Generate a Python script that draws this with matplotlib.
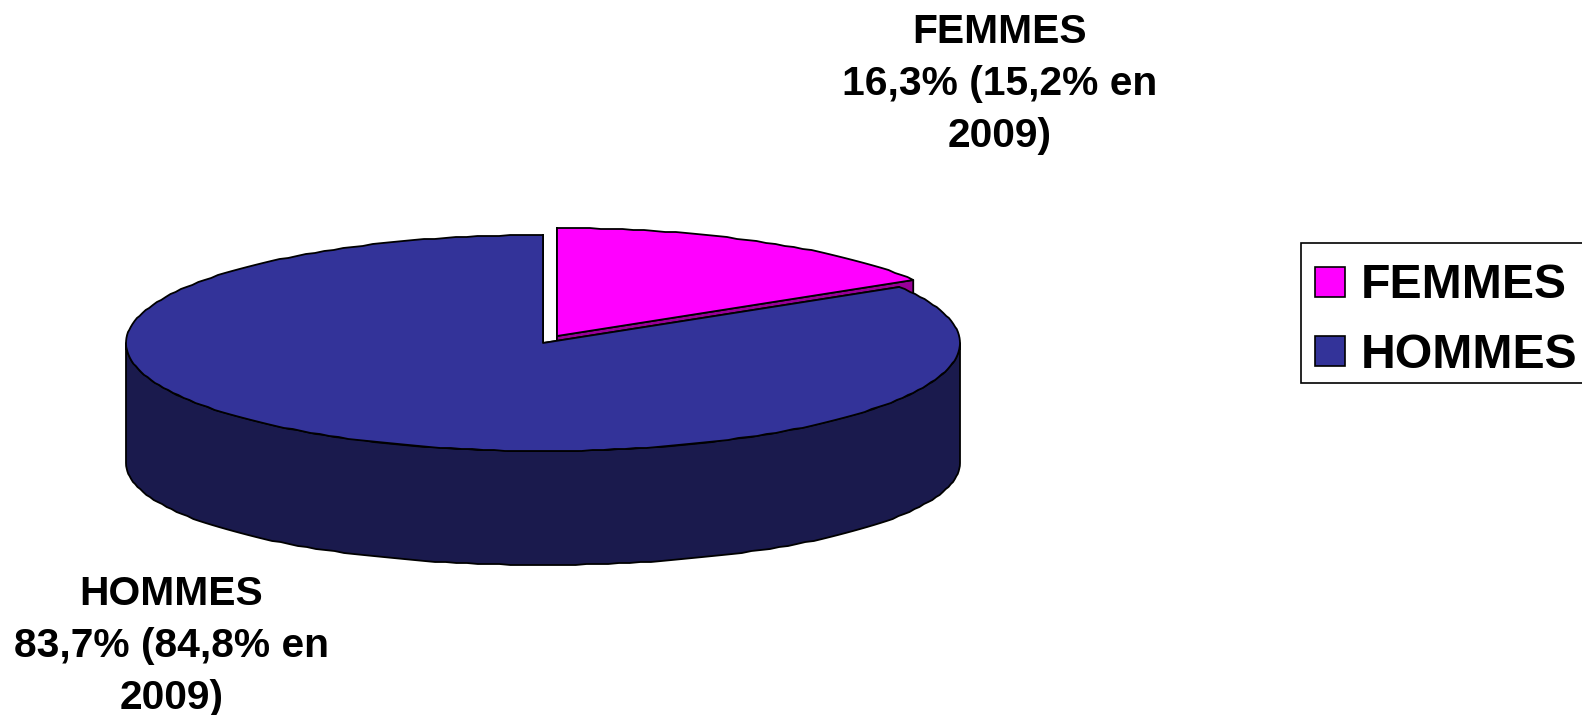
from matplotlib import pyplot as plt
from matplotlib.patches import Polygon, Rectangle
import numpy as np

# values
categories = ["FEMMES", "HOMMES"]
shares = [16.3, 83.7]
labels = ["FEMMES\n16,3% (15,2% en\n2009)", "HOMMES\n83,7% (84,8% en\n2009)"]

top_colors = ["#ff00ff", "#333399"]
side_colors = ["#990099", "#1a1a4d"]

plt.rcParams['font.family'] = ['Liberation Sans', 'DejaVu Sans']

# pie geometry, in pixels of the picture
RX = 417
RY = 108
RY_LOW = 102   # the lower rim comes out a bit flatter in the original
DEPTH = 120
CENTERS = [(557, 336), (543, 343)]


def ellipse_pts(center, a1, a2, ry=RY, drop=0):
    # angles in degrees clockwise from twelve o'clock
    n = max(2, int(abs(a2 - a1) / 1.5) + 1)
    t = np.radians(np.linspace(a1, a2, n))
    y = center[1] - ry * np.cos(t) + drop
    # whole pixels only, the original rim is slightly stepped too
    return np.column_stack([center[0] + RX * np.sin(t), np.round(y)])


def draw_slice(ax, center, a1, a2, top_col, side_col):
    apex = np.array(center, dtype=float)
    edge = dict(edgecolor="black", linewidth=1.3, joinstyle="round")

    # cut faces
    for a in (a1, a2):
        rim = ellipse_pts(center, a, a)[0]
        face = [apex, rim, rim + [0, DEPTH], apex + [0, DEPTH]]
        ax.add_patch(Polygon(face, closed=True, facecolor=side_col, **edge))

    # outer wall, only the part turned to the viewer
    lo = max(a1, 90)
    hi = min(a2, 270)
    if lo < hi:
        upper = ellipse_pts(center, lo, hi)
        lower = ellipse_pts(center, hi, lo, ry=RY_LOW, drop=DEPTH)
        ax.add_patch(Polygon(np.vstack([upper, lower]), closed=True, facecolor=side_col, **edge))

    # top
    arc = ellipse_pts(center, a1, a2)
    ax.add_patch(Polygon(np.vstack([[apex], arc]), closed=True, facecolor=top_col, **edge))


fig = plt.figure(figsize=(15.82, 7.15), dpi=100)
ax = fig.add_axes([0, 0, 1, 1])
ax.set_xlim(0, 1582)
ax.set_ylim(715, 0)
ax.axis("off")

total = sum(shares)
start = 0
for i in range(len(shares)):
    end = start + 360 * shares[i] / total
    draw_slice(ax, CENTERS[i], start, end, top_colors[i], side_colors[i])
    start = end

# data labels
ax.text(1000, 84, labels[0], ha="center", va="center", fontsize=29.3, fontweight="bold",
        linespacing=1.47, color="black")
ax.text(171.5, 646, labels[1], ha="center", va="center", fontsize=29.3, fontweight="bold",
        linespacing=1.47, color="black")

# legend
ax.add_patch(Rectangle((1301, 243), 290, 140, facecolor="white", edgecolor="black", linewidth=1.2))
legend_y = [282, 351]
text_y = [280, 350]
for i in range(len(categories)):
    ax.add_patch(Rectangle((1315, legend_y[i] - 15), 30, 30, facecolor=top_colors[i],
                           edgecolor="black", linewidth=1.2))
    ax.text(1361, text_y[i], categories[i], ha="left", va="center_baseline", fontsize=34.7,
            fontweight="bold", color="black")

fig.savefig("out.png", dpi=100)
